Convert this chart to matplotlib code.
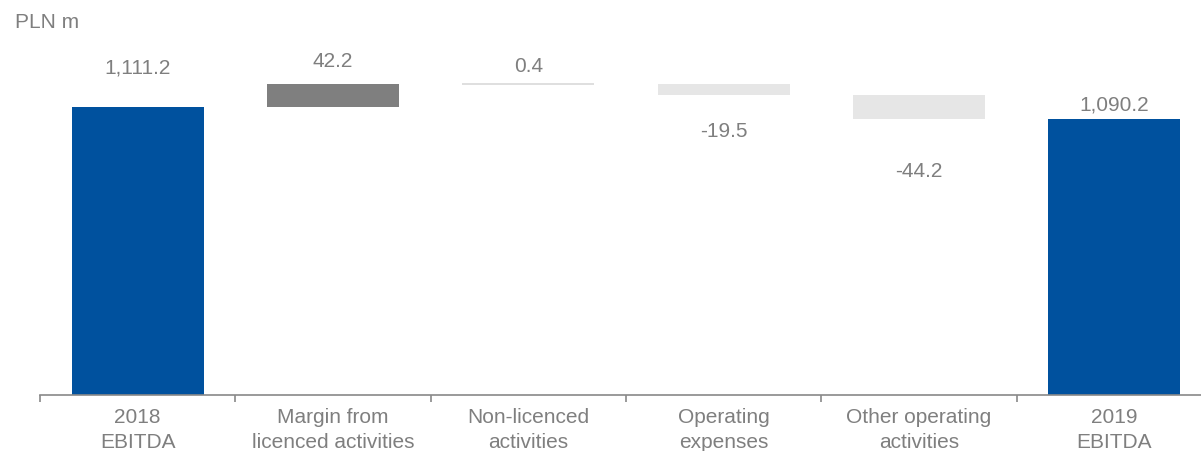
import matplotlib
matplotlib.use("Agg")
import matplotlib.pyplot as plt
import numpy as np

categories = ["2018\nEBITDA", "Margin from\nlicenced activities", "Non-licenced\nactivities",
              "Operating\nexpenses", "Other operating\nactivities", "2019\nEBITDA"]
values = [1111.2, 42.2, 0.4, -19.5, -44.2, 1090.2]
value_labels = ["1,111.2", "42.2", "0.4", "-19.5", "-44.2", "1,090.2"]
kinds = ["total", "delta", "delta", "delta", "delta", "total"]

YMIN = 591.0
plt.rcParams['font.family'] = ['Liberation Sans', 'DejaVu Sans']
TXT = "#7f7f7f"

fig = plt.figure(figsize=(12.01, 4.52), dpi=100)
ax = fig.add_axes([40/1201, 56/452, 1172/1201, 366/452])

x = np.arange(len(categories))
bottoms, heights, colors = [], [], []
running = 0.0
for v, k in zip(values, kinds):
    if k == "total":
        bottoms.append(YMIN); heights.append(v - YMIN); running = v
        colors.append("#00519e")
    else:
        b = running if v >= 0 else running + v
        bottoms.append(b); heights.append(abs(v)); running += v
        if v >= 0 and abs(v) > 1:
            colors.append("#7f7f7f")
        else:
            colors.append("#e6e6e6")

bars = ax.bar(x, heights, bottom=bottoms, width=0.675, color=colors, linewidth=0)
for i, v in enumerate(values):
    if kinds[i] == "delta" and abs(v) < 1:
        ax.hlines(bottoms[i] + heights[i], x[i] - 0.3375, x[i] + 0.3375, color="#d9d9d9", lw=1.2)

# label offsets in pixels (positive = above bar top, negative = below bar bottom)
label_offsets_px = [40, 23, 18, -36, -52, 15]
for i, (lab, off) in enumerate(zip(value_labels, label_offsets_px)):
    top = bottoms[i] + heights[i]
    bot = bottoms[i]
    yref = top if off > 0 else bot
    ax.annotate(lab, (x[i], yref), xytext=(0, off * 0.72), textcoords="offset points",
                ha="center", va="center", fontsize=15, color=TXT)

ax.set_xlim(-0.5, len(categories) - 0.5)
ax.set_ylim(YMIN, YMIN + 366 / 0.553)
for s in ["top", "right", "left"]:
    ax.spines[s].set_visible(False)
ax.spines["bottom"].set_color("#898989")
ax.spines["bottom"].set_linewidth(1.2)
ax.set_yticks([])
ax.set_xticks(np.arange(len(categories) + 1) - 0.5, minor=False)
ax.set_xticklabels([])
ax.tick_params(axis="x", which="major", length=5, color="#898989", width=1.2, direction="out")
ax.set_xticks(x, minor=True)
ax.set_xticklabels(categories, minor=True, fontsize=15, color=TXT, linespacing=1.38)
ax.tick_params(axis="x", which="minor", length=0, pad=9)

fig.text(15/1201, 1 - 23/452, "PLN m", ha="left", va="center", fontsize=15, color=TXT)

fig.savefig("out.png", dpi=100)
